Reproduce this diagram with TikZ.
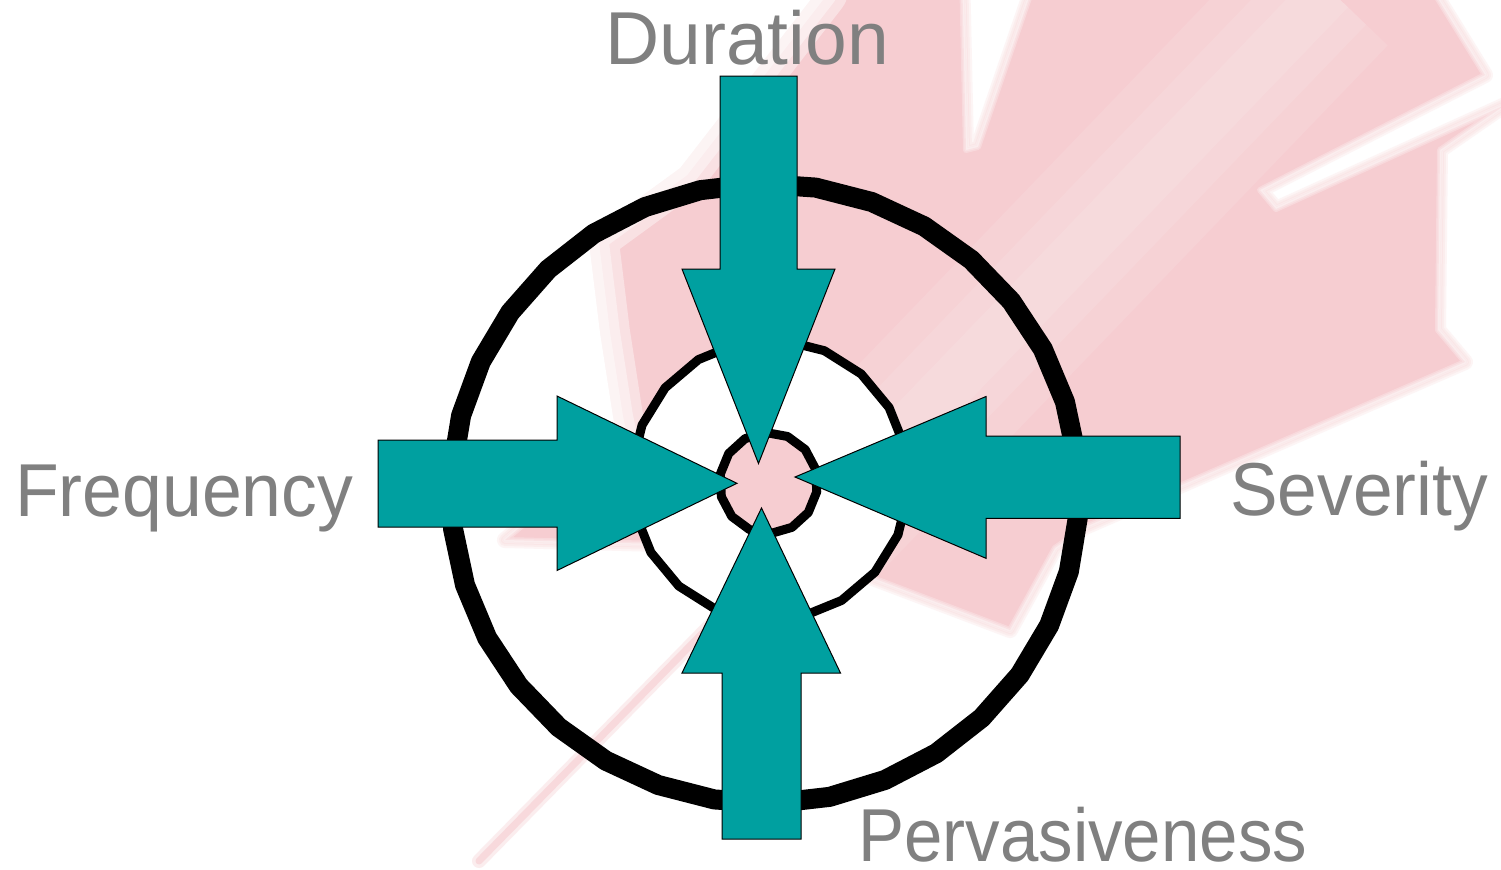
\documentclass[tikz,border=0pt]{standalone}
\usepackage{fontspec}
\setmainfont{Liberation Sans}
\definecolor{arrowteal}{RGB}{0,160,160}
\definecolor{leafpink}{RGB}{246,205,209}
\definecolor{labelgray}{RGB}{128,128,128}
\tikzset{
  arrowshape/.style={fill=arrowteal, draw=black, line width=0.5pt, line join=miter},
  ring/.style={draw=black, line join=round},
  lbl/.style={text=labelgray, inner sep=0pt, anchor=base west, font=\fontsize{37.5}{40}\selectfont},
  softpink/.style={leafpink, opacity=0.2, line join=round},
  softwhite/.style={white, opacity=0.4, line join=round},
}
\begin{document}
\begin{tikzpicture}[x=0.5pt,y=-0.5pt]
\useasboundingbox (0,0) rectangle (1501,869);
\fill[white] (0,0) rectangle (1501,869);

% ---------- faded maple leaf in the background ----------
\begin{scope}
\clip (0,0) rectangle (1501,869);
\path[save path=\leafpath] (746,575) -- (739,546) -- (505,540) -- (583,474) -- (594,455)
  -- (518,226) -- (595,210) -- (622,191) -- (700,40) -- (790,20) -- (830,-30) -- (962,-30)
  -- (966,150) -- (978,147) -- (1066,-110) -- (1199,-65) -- (1229,-68) -- (1460,-219)
  -- (1402,-42) -- (1419,-32) -- (1485,75) -- (1260,190) -- (1276,209) -- (1505,105)
  -- (1440,150) -- (1438,330) -- (1465,362) -- (1085,527) -- (1055,548) -- (1010,630)
  -- (820,558) -- (770,579) -- cycle;
\foreach \w in {8pt,6pt,4pt,2pt}{
  \draw[use path=\leafpath, softpink, line width=\w];
}
\fill[use path=\leafpath, leafpink];
\draw[use path=\leafpath, white, opacity=0.25, line width=3pt, line join=round];
\draw[use path=\leafpath, white, opacity=0.25, line width=1.5pt, line join=round];
% lighter fold running across the leaf
\coordinate (foldA) at (820,520);
\coordinate (foldB) at (1330,-10);
\foreach \w in {80pt,50pt,25pt}{
  \draw[white, opacity=0.1, line width=\w] (foldA) -- (foldB);
}
% stem
\coordinate (stemtop) at (757.8,576.7);
\coordinate (stembot) at (479,861);
\draw[leafpink, opacity=0.35, line width=7pt, line cap=round] (stemtop) -- (stembot);
\draw[leafpink, opacity=0.6, line width=3.5pt, line cap=round] (stemtop) -- (stembot);
% fade towards the upper left
\path[save path=\fogpath] (-10,-10) -- (818,-10) -- (680,168) -- (588,235)
  -- (600,333) -- (613,417) -- (622,460) -- (440,480) -- (-10,480) -- cycle;
\foreach \w in {30pt,20pt,10pt}{
  \draw[use path=\fogpath, softwhite, line width=\w];
}
\fill[use path=\fogpath, white];
\end{scope}

% ---------- rings ----------
\coordinate (outerc) at (765,493.5);
\coordinate (middlec) at (770,480);
\coordinate (innerc) at (768.5,483);
\draw[ring, line width=10pt]
  plot[domain=0:349.4118, samples=34] ({765+314*cos(\x+4)},{493.5+310*sin(\x+4)}) -- cycle;
\filldraw[ring, fill=white, line width=4.5pt]
  plot[domain=0:342, samples=20] ({770+139*cos(\x+5)},{480+140.5*sin(\x+5)}) -- cycle;
\filldraw[ring, fill=leafpink, line width=4.5pt]
  plot[domain=0:334.2857, samples=14] ({768.5+49*cos(\x+10)},{483+50.5*sin(\x+10)}) -- cycle;

% ---------- arrows ----------
\draw[arrowshape] (720,76) -- (797,76) -- (797,269) -- (835,269) -- (758.5,463.5)
  -- (682,269) -- (720,269) -- cycle;
\draw[arrowshape] (378,440) -- (557,440) -- (557,396) -- (737,483.3) -- (557,570.5)
  -- (557,527) -- (378,527) -- cycle;
\draw[arrowshape] (1180,436) -- (986,436) -- (986,396.5) -- (795,477) -- (986,558.3)
  -- (986,518.3) -- (1180,518.3) -- cycle;
\draw[arrowshape] (722,839) -- (801,839) -- (801,673) -- (840.5,673) -- (761.5,508)
  -- (682,673) -- (722,673) -- cycle;

% ---------- labels ----------
\node[lbl] (dur) at (605,64.5) {Duration};
\node[lbl] (freq) at (14.8,516) {\scalebox{0.954}[1]{Frequency}};
\node[lbl] (sev) at (1230,515) {\scalebox{0.951}[1]{Severity}};
\node[lbl] (perv) at (858,861) {\scalebox{0.92}[1]{Pervasiveness}};
\end{tikzpicture}
\end{document}
